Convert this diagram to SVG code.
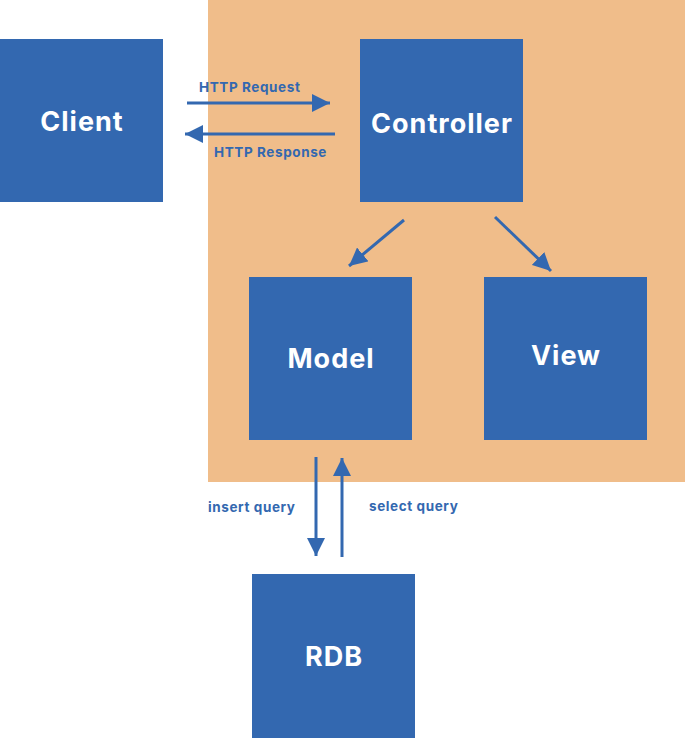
<svg xmlns="http://www.w3.org/2000/svg" width="685" height="738" viewBox="0 0 685 738">
<defs>
<style>
.box{fill:#3368B0}
.nt{fill:#fff;font-family:Inter,"Liberation Sans",sans-serif;font-weight:700;font-size:27px;letter-spacing:1px;text-anchor:middle}
.lt{fill:#3368B0;font-family:Inter,"Liberation Sans",sans-serif;font-weight:700;font-size:13.5px;letter-spacing:0.6px}
.ln{stroke:#3368B0;stroke-width:3;fill:none}
</style>
<marker id="ah" viewBox="0 0 10 10" refX="10" refY="5" markerWidth="6" markerHeight="6" orient="auto" markerUnits="strokeWidth">
<path d="M0,0 L10,5 L0,10 Z" fill="#3368B0"/>
</marker>
</defs>
<rect width="685" height="738" fill="#fff"/>
<rect x="208" y="0" width="477" height="482" fill="#F0BD8A"/>
<g id="client"><rect class="box" x="0" y="39" width="163" height="163"/><text class="nt" x="82" y="131">Client</text></g>
<g id="controller"><rect class="box" x="360" y="39" width="163" height="163"/><text class="nt" x="442" y="133">Controller</text></g>
<g id="model"><rect class="box" x="249" y="277" width="163" height="163"/><text class="nt" x="331" y="368">Model</text></g>
<g id="view"><rect class="box" x="484" y="277" width="163" height="163"/><text class="nt" x="566" y="365">View</text></g>
<g id="rdb"><rect class="box" x="252" y="574" width="163" height="164"/><text class="nt" x="334" y="666">RDB</text></g>
<g id="connectors">
<line class="ln" x1="187" y1="103" x2="330" y2="103" marker-end="url(#ah)"/>
<line class="ln" x1="335" y1="134" x2="185" y2="134" marker-end="url(#ah)"/>
<line class="ln" x1="404" y1="220" x2="349" y2="266" marker-end="url(#ah)"/>
<line class="ln" x1="495" y1="217" x2="551" y2="271" marker-end="url(#ah)"/>
<line class="ln" x1="316" y1="457" x2="316" y2="556" marker-end="url(#ah)"/>
<line class="ln" x1="342" y1="557" x2="342" y2="458" marker-end="url(#ah)"/>
<text class="lt" x="199" y="92">HTTP Request</text>
<text class="lt" x="214" y="157">HTTP Response</text>
<text class="lt" x="208" y="512">insert query</text>
<text class="lt" x="369" y="511">select query</text>
</g>
</svg>
